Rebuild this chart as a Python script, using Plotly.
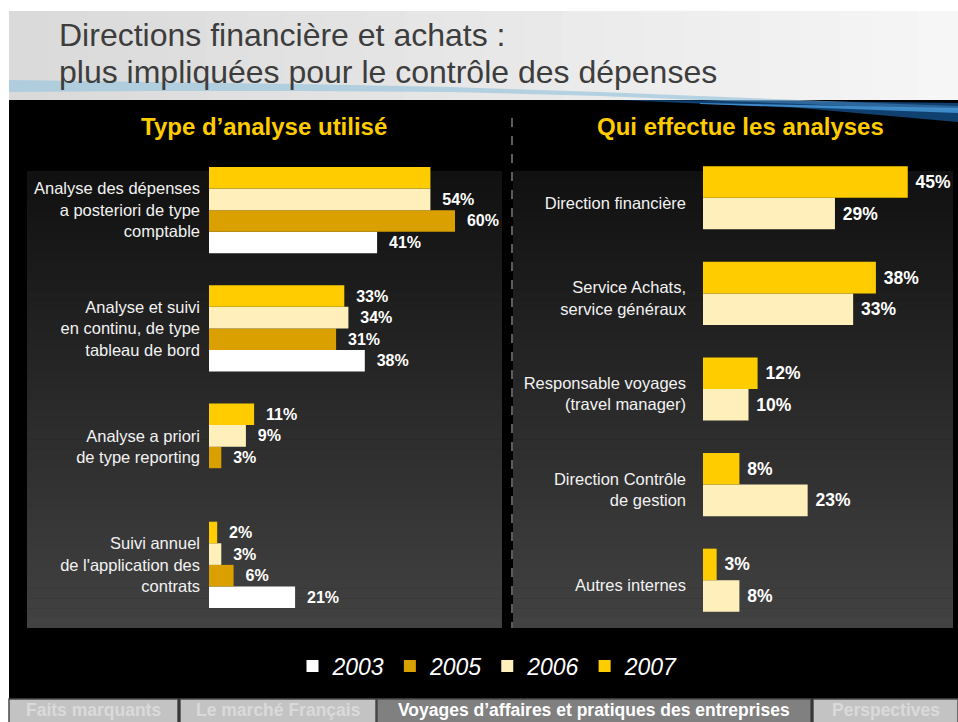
import plotly.graph_objects as go

# ---------------- data ----------------
years = ["2003", "2005", "2006", "2007"]
colors = {"2003": "#FFFFFF", "2005": "#D9A000", "2006": "#FFF0BB", "2007": "#FFCC00"}

left_title = "Type d’analyse utilisé"
left_cats = [
    "Analyse des dépenses<br>a posteriori de type<br>comptable",
    "Analyse et suivi<br>en continu, de type<br>tableau de bord",
    "Analyse a priori<br>de type reporting",
    "Suivi annuel<br>de l'application des<br>contrats",
]
left_2003 = [41, 38, None, 21]
left_2005 = [60, 31, 3, 6]
left_2006 = [54, 34, 9, 3]
left_2007 = [54, 33, 11, 2]
left_hide_label_2007 = [True, False, False, False]

right_title = "Qui effectue les analyses"
right_cats = [
    "Direction financière",
    "Service Achats,<br>service généraux",
    "Responsable voyages<br>(travel manager)",
    "Direction Contrôle<br>de gestion",
    "Autres internes",
]
right_2006 = [29, 33, 10, 23, 8]
right_2007 = [45, 38, 12, 8, 3]

title_lines = ["Directions financière et achats :",
               "plus impliquées pour le contrôle des dépenses"]
tabs = ["Faits marquants", "Le marché Français",
        "Voyages d’affaires et pratiques des entreprises", "Perspectives"]

# ---------------- helpers ----------------
W, H = 958, 722
FONT = "Liberation Sans"


def px(x):
    return x / W


def py(y):
    return 1 - y / H


def labels(vals, pad, hide=None):
    out = []
    for i, v in enumerate(vals):
        if v is None or (hide is not None and hide[i]):
            out.append("")
        else:
            out.append(pad + f"{v}%")
    return out


fig = go.Figure()

left_series = {"2003": left_2003, "2005": left_2005, "2006": left_2006, "2007": left_2007}
for yr in years:
    hide = left_hide_label_2007 if yr == "2007" else None
    fig.add_trace(go.Bar(
        name=yr, orientation="h", y=left_cats, x=left_series[yr],
        marker=dict(color=colors[yr], line=dict(width=0)),
        text=labels(left_series[yr], "  ", hide), textposition="outside",
        textfont=dict(family=FONT, size=16, color="white", weight="bold"),
        constraintext="none", cliponaxis=False,
        xaxis="x", yaxis="y", showlegend=True, hoverinfo="skip"))

# right panel: two bars per category, each 0.33 of the category slot
right_series = {"2006": right_2006, "2007": right_2007}
right_offsets = {"2006": -0.33, "2007": 0.0}
for yr in ["2006", "2007"]:
    fig.add_trace(go.Bar(
        name=yr, orientation="h", y=right_cats, x=right_series[yr],
        width=0.33, offset=right_offsets[yr],
        marker=dict(color=colors[yr], line=dict(width=0)),
        text=labels(right_series[yr], " "), textposition="outside",
        textfont=dict(family=FONT, size=17.5, color="white", weight="bold"),
        constraintext="none", cliponaxis=False,
        xaxis="x2", yaxis="y2", showlegend=False, hoverinfo="skip"))

# ---------------- decorative shapes ----------------
shapes = []


def rect(x0, y0, x1, y1, color, line=None):
    d = dict(type="rect", xref="paper", yref="paper",
             x0=px(x0), x1=px(x1), y0=py(y1), y1=py(y0),
             fillcolor=color, layer="below", line=dict(width=0))
    if line:
        d["line"] = line
    shapes.append(d)


# white page edges
rect(0, 0, W, 11, "white")
rect(0, 0, 9, H, "white")
# title area horizontal gradient
n = 24
for i in range(n):
    t = i / (n - 1)
    c = int(218 + (246 - 218) * t)
    rect(9 + (W - 9) * i / n, 11, 9 + (W - 9) * (i + 1) / n + 1, 100, f"rgb({c},{c},{c})")


def path(points_top, points_bot, color):
    pts = points_top + points_bot[::-1]
    s = "M " + " L ".join(f"{px(x):.5f},{py(y):.5f}" for x, y in pts) + " Z"
    shapes.append(dict(type="path", xref="paper", yref="paper", path=s,
                       fillcolor=color, line=dict(width=0), layer="below"))


# swoosh
top = [(9, 80), (150, 82), (300, 84), (450, 87), (600, 92), (750, 98), (900, 104), (958, 106)]
bot = [(9, 92), (150, 91), (300, 91), (450, 92), (600, 96), (750, 102), (900, 108), (958, 110)]
path(top, bot, "rgba(160,200,222,0.75)")
path([(620, 100), (800, 101), (958, 103)], [(620, 100), (800, 108), (958, 122)], "rgba(20,85,150,0.75)")
path([(700, 103), (850, 106), (958, 108)], [(700, 104), (850, 109), (958, 113)], "rgba(70,150,215,0.85)")

# chart panels with vertical gradient
m = 46
for (x0, x1) in [(27, 502), (513, 953)]:
    for i in range(m):
        t = i / (m - 1)
        c = int(17 + (66 - 17) * t)
        y0 = 171 + (628 - 171) * i / m
        y1 = 171 + (628 - 171) * (i + 1) / m + 0.6
        rect(x0, y0, x1, min(y1, 628), f"rgb({c},{c},{c})")

# dashed separator
shapes.append(dict(type="line", xref="paper", yref="paper", x0=px(512), x1=px(512),
                   y0=py(118), y1=py(628), line=dict(color="#9a9a9a", width=1.2, dash="dash"),
                   layer="below"))

# tabs
tab_x = [(9, 178), (180, 376), (377, 811), (813, 958)]
tab_active = [False, False, True, False]
for (x0, x1), act in zip(tab_x, tab_active):
    rect(x0, 699, x1, 724, "#808080" if act else "#c3c3c3",
         line=dict(color="#4a4a4a", width=1.5))

# ---------------- annotations ----------------
ann = []
ann.append(dict(text=title_lines[0], x=px(57), y=py(35), xref="paper", yref="paper",
                xanchor="left", yanchor="middle", showarrow=False,
                font=dict(family=FONT, size=32, color="#3d3d3d")))
ann.append(dict(text=title_lines[1], x=px(57), y=py(72), xref="paper", yref="paper",
                xanchor="left", yanchor="middle", showarrow=False,
                font=dict(family=FONT, size=32, color="#3d3d3d")))
ann.append(dict(text=left_title, x=px(264), y=py(127), xref="paper", yref="paper",
                xanchor="center", yanchor="middle", showarrow=False,
                font=dict(family=FONT, size=24, color="#FFCC00", weight="bold")))
ann.append(dict(text=right_title, x=px(740), y=py(127), xref="paper", yref="paper",
                xanchor="center", yanchor="middle", showarrow=False,
                font=dict(family=FONT, size=24, color="#FFCC00", weight="bold")))
for (x0, x1), act, t in zip(tab_x, tab_active, tabs):
    ann.append(dict(text=t, x=px((x0 + x1) / 2), y=py(710), xref="paper", yref="paper",
                    xanchor="center", yanchor="middle", showarrow=False,
                    font=dict(family=FONT, size=17.5, weight="bold",
                              color="white" if act else "#dadada")))

fig.update_layout(
    width=W, height=H, margin=dict(l=0, r=0, t=0, b=0),
    paper_bgcolor="black", plot_bgcolor="rgba(0,0,0,0)",
    barmode="group", bargap=0.27, bargroupgap=0,
    shapes=shapes, annotations=ann,
    font=dict(family=FONT, color="white"),
    xaxis=dict(domain=[px(209), px(502)], range=[0, (502 - 209) / 4.1],
               showgrid=False, zeroline=False, showticklabels=False, fixedrange=True),
    yaxis=dict(domain=[py(624), py(151)], type="category", categoryorder="array",
               categoryarray=left_cats[::-1], range=[-0.5, 3.5],
               showgrid=False, zeroline=False, ticks="", ticklabelstandoff=8,
               tickfont=dict(family=FONT, size=16.5, color="#f2f2f2")),
    xaxis2=dict(domain=[px(703), px(953)], range=[0, (953 - 703) / 4.55], anchor="y2",
                showgrid=False, zeroline=False, showticklabels=False),
    yaxis2=dict(domain=[py(628), py(150)], anchor="x2", type="category",
                categoryorder="array", categoryarray=right_cats[::-1], range=[-0.5, 4.5],
                showgrid=False, zeroline=False, ticks="", ticklabelstandoff=16,
                ticklabelshift=5,
                tickfont=dict(family=FONT, size=16.5, color="#f2f2f2")),
    legend=dict(orientation="h", x=px(488), xanchor="center", y=py(666), yanchor="middle",
                traceorder="normal", bgcolor="rgba(0,0,0,0)",
                font=dict(family=FONT, size=23, color="white", style="italic")),
)

fig.write_html("out.html")
